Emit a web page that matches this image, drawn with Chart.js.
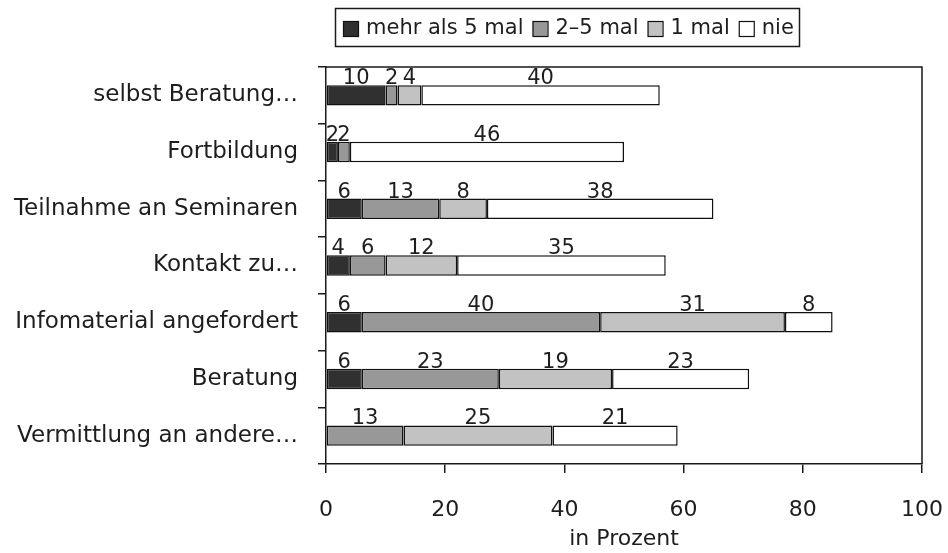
<!DOCTYPE html>
<html>
<head>
<meta charset="utf-8">
<title>Inanspruchnahme</title>
<script src="https://cdn.jsdelivr.net/npm/chart.js@4/dist/chart.umd.min.js"></script>
<style>
    html, body { margin: 0; padding: 0; background: #fff; }
    #contenedor { width: 948px; height: 553px; }
</style>
</head>
<body>
<div id="contenedor"><canvas id="myChart" width="948" height="553"></canvas></div>
<script>
// Werte (Prozent)
var kategorien = ['selbst Beratung\u2026', 'Fortbildung', 'Teilnahme an Seminaren', 'Kontakt zu\u2026',
    'Infomaterial angefordert', 'Beratung', 'Vermittlung an andere\u2026'];
var mehrAls5 = [10, 2, 6, 4, 6, 6, 0];
var zweiBis5 = [2, 2, 13, 6, 40, 23, 13];
var einmal = [4, 0, 8, 12, 31, 19, 25];
var nie = [40, 46, 38, 35, 8, 23, 21];
var serien = ['mehr als 5 mal', '2\u20135 mal', '1 mal', 'nie'];
var farben = ['#303030', '#989898', '#c2c2c2', '#ffffff'];
var xTicks = [0, 20, 40, 60, 80, 100];

var schrift = 'DejaVu Sans';
var textFarbe = '#1e1e1e';

Chart.defaults.font.family = schrift;
Chart.defaults.color = textFarbe;

// Zahlen ueber jedem Segment
var wertePlugin = {
    id: 'werte',
    afterDatasetsDraw: function (chart) {
        var ctx = chart.ctx;
        ctx.save();
        ctx.font = '21px "' + schrift + '"';
        ctx.fillStyle = textFarbe;
        ctx.textAlign = 'center';
        ctx.textBaseline = 'alphabetic';
        chart.data.datasets.forEach(function (ds, i) {
            var meta = chart.getDatasetMeta(i);
            meta.data.forEach(function (bar, j) {
                var v = ds.data[j];
                if (!v) return;
                var mitte = (bar.x + bar.base) / 2;
                ctx.fillText(String(v), mitte, bar.y - bar.height / 2 - 1);
            });
        });
        ctx.restore();
    }
};

// Rahmen oben/rechts und Legende im Kasten
var rahmenPlugin = {
    id: 'rahmen',
    afterDraw: function (chart) {
        var ctx = chart.ctx;
        var a = chart.chartArea;
        ctx.save();
        ctx.strokeStyle = '#1a1a1a';
        ctx.lineWidth = 1.5;
        ctx.beginPath();
        ctx.moveTo(a.left, a.top);
        ctx.lineTo(a.right, a.top);
        ctx.lineTo(a.right, a.bottom);
        ctx.stroke();

        // Legende
        var box = { x: 335.5, y: 8.5, w: 464, h: 38 };
        ctx.save();
        ctx.beginPath();
        ctx.rect(box.x, box.y, box.w, box.h);
        ctx.clip();
        ctx.font = '21px "' + schrift + '"';
        ctx.textBaseline = 'alphabetic';
        ctx.textAlign = 'left';
        var x = 343;
        chart.data.datasets.forEach(function (ds) {
            ctx.fillStyle = ds.backgroundColor;
            ctx.fillRect(x, 21, 15, 15);
            ctx.lineWidth = 1.2;
            ctx.strokeStyle = '#111';
            ctx.strokeRect(x + 0.5, 21.5, 15, 15);
            x += 15 + 8;
            ctx.fillStyle = textFarbe;
            ctx.fillText(ds.label, x, 34);
            x += ctx.measureText(ds.label).width + 9;
        });
        ctx.restore();
        ctx.lineWidth = 1.5;
        ctx.strokeStyle = '#1a1a1a';
        ctx.strokeRect(box.x, box.y, box.w, box.h);
        ctx.restore();
    }
};

var werte = [mehrAls5, zweiBis5, einmal, nie];
var datasets = serien.map(function (name, i) {
    return {
        label: name,
        data: werte[i],
        backgroundColor: farben[i],
        borderColor: '#111111',
        borderWidth: 1.5,
        borderSkipped: false,
        categoryPercentage: 1,
        barPercentage: 0.36
    };
});

var ctx = document.getElementById('myChart').getContext('2d');
var chart = new Chart(ctx, {
    type: 'bar',
    data: {
        labels: kategorien,
        datasets: datasets
    },
    options: {
        indexAxis: 'y',
        responsive: false,
        animation: false,
        layout: { padding: { top: 67, right: 26, left: 0, bottom: 0 } },
        plugins: {
            legend: { display: false },
            tooltip: { enabled: false }
        },
        scales: {
            x: {
                stacked: true,
                min: 0,
                max: 100,
                afterBuildTicks: function (scale) {
                    scale.ticks = xTicks.map(function (v) { return { value: v }; });
                },
                afterFit: function (scale) {
                    scale.height = 89;
                    // kein Extra-Rand fuer die Beschriftung "100"
                    scale.paddingRight = 0;
                    scale.paddingLeft = 0;
                },
                grid: { drawOnChartArea: false, color: '#1a1a1a', lineWidth: 1.5, tickLength: 9 },
                border: { color: '#1a1a1a', width: 1.5 },
                ticks: { font: { size: 22 }, padding: 24, color: textFarbe, maxRotation: 0 },
                title: {
                    display: true,
                    text: 'in Prozent',
                    font: { size: 22 },
                    color: textFarbe,
                    padding: { top: 0, bottom: 1 }
                }
            },
            y: {
                stacked: true,
                afterFit: function (scale) { scale.width = 326; },
                grid: { drawOnChartArea: false, color: '#1a1a1a', lineWidth: 1.5, tickLength: 8, offset: true },
                border: { color: '#1a1a1a', width: 1.5 },
                ticks: { font: { size: 23 }, padding: 20, color: textFarbe }
            }
        }
    },
    plugins: [wertePlugin, rahmenPlugin]
});
</script>
</body>
</html>
